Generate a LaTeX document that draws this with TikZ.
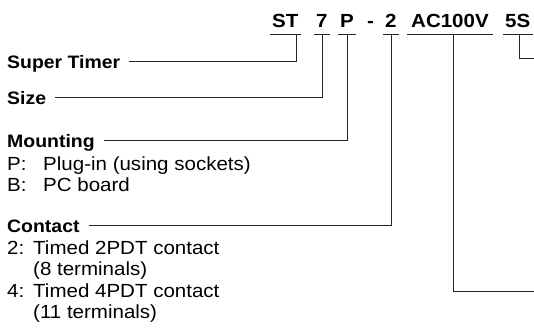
\documentclass[tikz,border=0pt]{standalone}
\usepackage{fontspec}
\setmainfont[FakeStretch=1.08]{Liberation Sans}
\usetikzlibrary{positioning}

\begin{document}
\begin{tikzpicture}[
    x=1pt, y=-1pt,
    code/.style={font=\fontsize{19}{21}\selectfont\bfseries, inner xsep=2pt, inner ysep=7pt, text depth=0pt, anchor=base west},
    hint/.style={font=\fontsize{18}{20}\selectfont\bfseries, inner xsep=4pt, text height=12.9pt, text depth=0pt, anchor=base west},
    opts/.style={font=\fontsize{19}{21.5}\selectfont, inner sep=0pt, anchor=base west},
    uline/.style={line width=0.8pt, black!85},
    lead/.style={line width=0.8pt, black!85},
    gap/.style={shorten <=5pt}
]
    \useasboundingbox (0,0) rectangle (534,330);

    % model code
    \node[code] (st) at (270,27) {ST};
    \node[code] (sz) at (314,27) {7};
    \node[code] (pl) at (338,27) {P};
    \node[code] (dash) at (365,27) {-};
    \node[code] (cnt) at (383,27) {2};
    \node[code, inner xsep=4pt] (volt) at (407,27) {AC100V};
    \node[code] (tm) at (503,27) {5S};
    \foreach \n in {st,sz,pl,cnt,volt,tm}
        \draw[uline] (\n.south west) -- (\n.south east);

    % explanations
    \node[hint] (timer) at (3,68) {Super Timer};
    \node[hint] (size) at (3,104) {Size};
    \node[hint] (mount) at (3,147) {Mounting};
    \node[opts] (mopts) at (7,170) {\begin{tabular}[t]{@{}p{36pt}@{}l@{}}
        P: & Plug-in (using sockets)\\
        B: & PC board
    \end{tabular}};
    \node[hint] (contact) at (3,232) {Contact};
    \node[opts] (copts) at (7,254) {\begin{tabular}[t]{@{}p{26pt}@{}l@{}}
        2: & Timed 2PDT contact\\
           & (8 terminals)\\
        4: & Timed 4PDT contact\\
           & (11 terminals)
    \end{tabular}};

    \coordinate (vend) at (534,291);
    \coordinate (tend) at (534,58);

    \draw[lead, gap] (timer.east) -| ([xshift=-4pt]st.south east);
    \draw[lead, gap] (size.east) -| (sz.south);
    \draw[lead, gap] (mount.east) -| (pl.south);
    \draw[lead, gap] (contact.east) -| (cnt.south);
    \draw[lead] ([xshift=3pt]volt.south) |- (vend);
    \draw[lead] ([xshift=2pt]tm.south) |- (tend);
\end{tikzpicture}
\end{document}
